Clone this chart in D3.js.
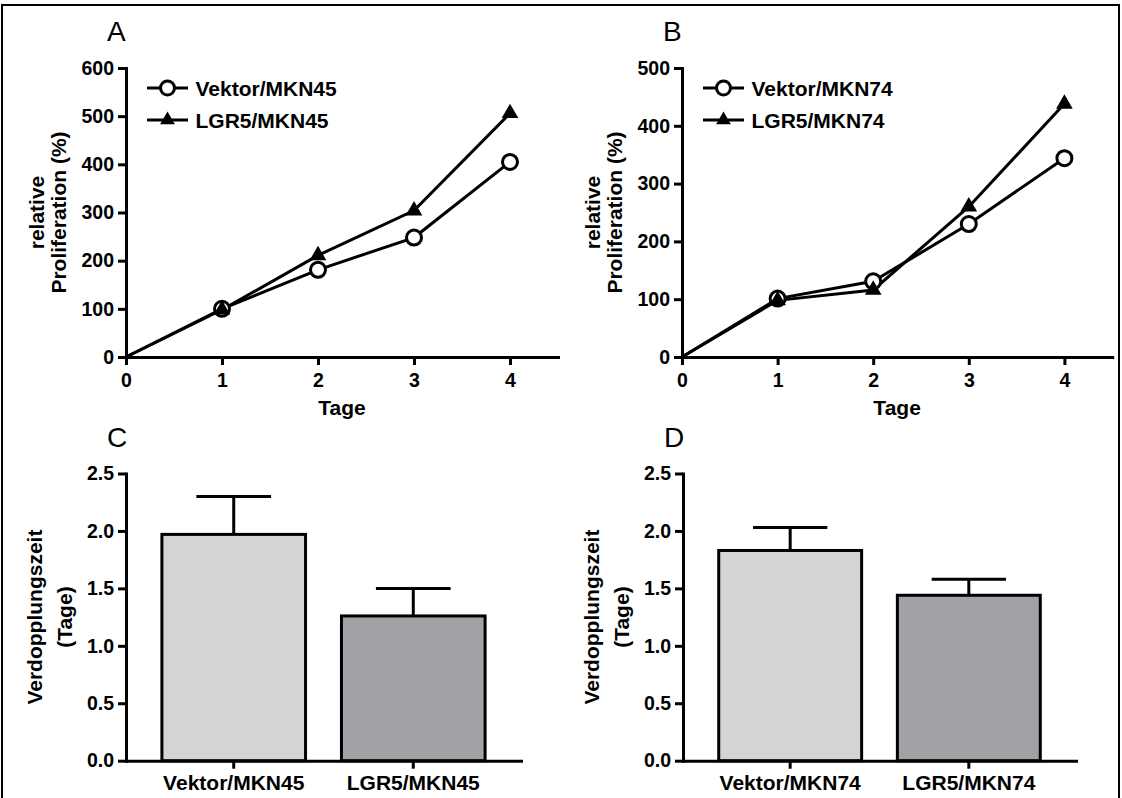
<!DOCTYPE html>
<html><head><meta charset="utf-8">
<script src="https://cdn.jsdelivr.net/npm/d3@7"></script>
<style>
body{margin:0;background:#fff}
svg{display:block}
text{font-family:Arial,"Liberation Sans",Helvetica,sans-serif}
</style>
</head><body>
<svg id="c" width="1122" height="798"></svg>
<script>
// ---------- data ----------
const days = [0, 1, 2, 3, 4];
const xTicks = [0, 1, 2, 3, 4];
const xMax = 4.5;

const vektorMKN45 = [0, 100, 181, 248, 405];
const lgr5MKN45   = [0, 98, 211, 304, 506];
const yTicksA     = [0, 100, 200, 300, 400, 500, 600];

const vektorMKN74 = [0, 101, 131, 230, 344];
const lgr5MKN74   = [0, 98, 116, 260, 438];
const yTicksB     = [0, 100, 200, 300, 400, 500];

const barCatsC = ["Vektor/MKN45", "LGR5/MKN45"];
const meanC    = [1.97, 1.26];
const errC     = [0.33, 0.24];

const barCatsD = ["Vektor/MKN74", "LGR5/MKN74"];
const meanD    = [1.83, 1.44];
const errD     = [0.20, 0.14];

const yTicksBar = [0, 0.5, 1.0, 1.5, 2.0, 2.5];
const barFills  = ["#d4d4d4", "#a2a1a6"];

// ---------- drawing ----------
const svg = d3.select("#c");
const FONT_TICK = "19.5px", FONT_TITLE = "21px";

// frame
svg.append("path")
  .attr("d", d3.line()([[2, 798], [2, 5], [1119, 5], [1119, 798]]))
  .attr("fill", "none").attr("stroke", "#000").attr("stroke-width", 2);

function styleAxis(g) {
  g.attr("font-size", null).attr("font-family", null);
  g.select(".domain").attr("stroke", "#000").attr("stroke-width", 3).attr("stroke-linecap", "square");
  g.selectAll(".tick line").attr("stroke", "#000").attr("stroke-width", 3);
  g.selectAll(".tick text").attr("fill", "#000").style("font-size", FONT_TICK).style("font-weight", "bold");
}

function panelLetter(txt, x, y) {
  svg.append("text").attr("x", x).attr("y", y).text(txt)
    .style("font-size", "28px").style("font-weight", "normal");
}

function yTitle(lines, x, offsets, cy) {
  lines.forEach((t, i) => {
    svg.append("text")
      .attr("transform", `translate(${x + offsets[i]},${cy}) rotate(-90)`)
      .attr("text-anchor", "middle")
      .style("font-size", FONT_TITLE).style("font-weight", "bold")
      .text(t);
  });
}

function marker(g, type, cx, cy, big) {
  if (type === "circle") {
    g.append("circle").attr("cx", cx).attr("cy", cy).attr("r", big ? 7.5 : 7)
      .attr("fill", "#fff").attr("stroke", "#000").attr("stroke-width", 3);
  } else {
    g.append("path")
      .attr("d", d3.symbol(d3.symbolTriangle, big ? 120 : 95)())
      .attr("transform", `translate(${cx},${cy})`)
      .attr("fill", "#000");
  }
}

function linePanel(p) {
  const x = d3.scaleLinear().domain([0, xMax]).range([p.left, p.left + p.unit * xMax]);
  const y = d3.scaleLinear().domain([0, p.yMax]).range([p.bottom, p.top]);

  const gx = svg.append("g").attr("transform", `translate(0,${p.bottom})`)
    .call(d3.axisBottom(x).tickValues(xTicks).tickSize(8).tickSizeOuter(0).tickPadding(8).tickFormat(d3.format("d")));
  const gy = svg.append("g").attr("transform", `translate(${p.left},0)`)
    .call(d3.axisLeft(y).tickValues(p.yTicks).tickSize(8).tickSizeOuter(0).tickPadding(4).tickFormat(d3.format("d")));
  styleAxis(gx); styleAxis(gy);

  const line = d3.line().x((d, i) => x(days[i])).y(d => y(d));
  p.series.forEach(s => {
    svg.append("path").datum(s.values).attr("d", line)
      .attr("fill", "none").attr("stroke", "#000").attr("stroke-width", 3);
  });
  p.series.forEach(s => {
    const g = svg.append("g");
    s.values.forEach((v, i) => { if (i > 0) marker(g, s.marker, x(days[i]), y(v), true); });
  });

  // legend
  p.series.forEach((s, i) => {
    const ly = p.legendY[i];
    const g = svg.append("g");
    g.append("line").attr("x1", p.left + 21).attr("x2", p.left + 62).attr("y1", ly).attr("y2", ly)
      .attr("stroke", "#000").attr("stroke-width", 3);
    marker(g, s.marker, p.left + 41.5, ly, false);
    g.append("text").attr("x", p.left + 69.5).attr("y", ly).attr("dy", "0.36em")
      .style("font-size", FONT_TITLE).style("font-weight", "bold").text(s.name);
  });

  // titles
  svg.append("text").attr("x", x(2.25)).attr("y", p.bottom + 58)
    .attr("text-anchor", "middle").style("font-size", FONT_TITLE).style("font-weight", "bold").text("Tage");
  yTitle(["relative", "Proliferation (%)"], p.left, [-82, -60], (p.top + p.bottom) / 2);
  panelLetter(p.letter, p.left - 19, 41);
}

function barPanel(p) {
  const x = d3.scaleBand().domain(p.cats).range([p.left, p.right]).padding(0.2);
  const y = d3.scaleLinear().domain([0, 2.5]).range([p.bottom, p.top]);

  p.cats.forEach((c, i) => {
    const cx = x(c) + x.bandwidth() / 2;
    const capW = x.bandwidth() * 0.52;
    svg.append("line").attr("x1", cx).attr("x2", cx)
      .attr("y1", y(p.mean[i])).attr("y2", y(p.mean[i] + p.err[i]))
      .attr("stroke", "#000").attr("stroke-width", 3);
    svg.append("line").attr("x1", cx - capW / 2).attr("x2", cx + capW / 2)
      .attr("y1", y(p.mean[i] + p.err[i])).attr("y2", y(p.mean[i] + p.err[i]))
      .attr("stroke", "#000").attr("stroke-width", 3);
    svg.append("rect").attr("x", x(c)).attr("width", x.bandwidth())
      .attr("y", y(p.mean[i])).attr("height", y(0) - y(p.mean[i]))
      .attr("fill", barFills[i]).attr("stroke", "#000").attr("stroke-width", 3);
  });

  const gx = svg.append("g").attr("transform", `translate(0,${p.bottom})`)
    .call(d3.axisBottom(x).tickSize(8).tickSizeOuter(0).tickPadding(6));
  const gy = svg.append("g").attr("transform", `translate(${p.left},0)`)
    .call(d3.axisLeft(y).tickValues(yTicksBar).tickSize(8).tickSizeOuter(0).tickPadding(4).tickFormat(d3.format(".1f")));
  styleAxis(gx); styleAxis(gy);
  gx.selectAll(".tick text").style("font-size", FONT_TITLE);

  yTitle(["Verdopplungszeit", "(Tage)"], p.left, [-84, -54], (p.top + p.bottom) / 2);
  panelLetter(p.letter, p.left - 19, 447);
}

linePanel({
  left: 126, unit: 96, top: 68, bottom: 357, yMax: 600, yTicks: yTicksA,
  legendY: [88, 120], letter: "A",
  series: [
    { name: "Vektor/MKN45", values: vektorMKN45, marker: "circle" },
    { name: "LGR5/MKN45", values: lgr5MKN45, marker: "triangle" }
  ]
});
linePanel({
  left: 682, unit: 95.6, top: 68, bottom: 357, yMax: 500, yTicks: yTicksB,
  legendY: [88, 120], letter: "B",
  series: [
    { name: "Vektor/MKN74", values: vektorMKN74, marker: "circle" },
    { name: "LGR5/MKN74", values: lgr5MKN74, marker: "triangle" }
  ]
});
barPanel({ left: 126, right: 521, top: 473.5, bottom: 760.7, cats: barCatsC, mean: meanC, err: errC, letter: "C" });
barPanel({ left: 683, right: 1076, top: 473.5, bottom: 760.7, cats: barCatsD, mean: meanD, err: errD, letter: "D" });
</script>
</body></html>
